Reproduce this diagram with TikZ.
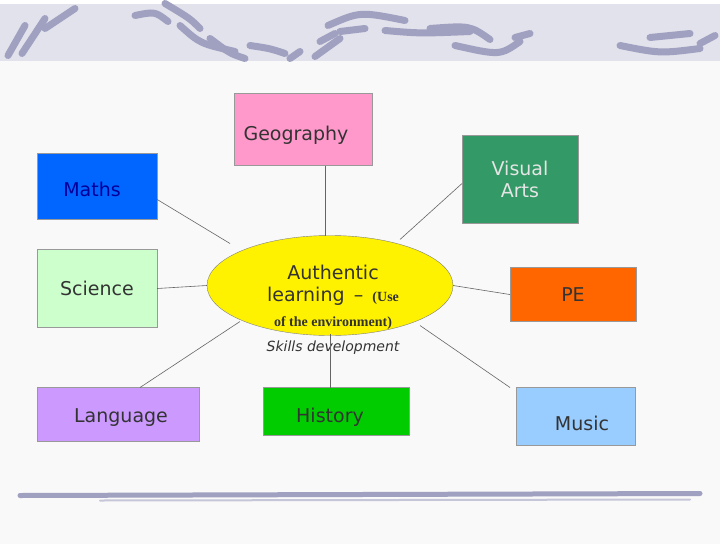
\documentclass[tikz,border=0pt]{standalone}
\usepackage{fontspec}
\usetikzlibrary{shapes.geometric}
\setmainfont{DejaVu Sans}
\newfontfamily\serifb{Liberation Serif}
\definecolor{cgeo}{HTML}{FF99CC}
\definecolor{cmath}{HTML}{0066FF}
\definecolor{cva}{HTML}{339966}
\definecolor{cpe}{HTML}{FF6600}
\definecolor{clang}{HTML}{CC99FF}
\definecolor{cmus}{HTML}{99CCFF}
\definecolor{chist}{HTML}{00CC00}
\definecolor{csci}{HTML}{CCFFCC}
\definecolor{cband}{HTML}{E2E2EC}
\definecolor{cstroke}{HTML}{A0A0C0}
\begin{document}
\begin{tikzpicture}[x=1pt,y=-1pt,
 box/.style={draw=gray!80,minimum width=#1,inner sep=0pt,font=\fontsize{19}{22}\selectfont,text=black!80},
 conn/.style={draw=gray!80!black,line width=0.6pt},
 stroke/.style={line width=7pt,line cap=round,color=cstroke}]
\fill[white!95!gray] (0,0) rectangle (720,540);
\fill[cband] (0,0) rectangle (720,57);
\draw[stroke] (8,52)--(25,22); \draw[stroke] (22,50)--(45,15); \draw[stroke] (45,25)--(75,5);
\draw[stroke] (135,12) .. controls (155,8) .. (168,18);
\draw[stroke] (165,0) .. controls (190,15) .. (200,25);
\draw[stroke] (180,22) .. controls (200,40) .. (235,48);
\draw[stroke] (210,35) .. controls (230,50) .. (245,55);
\draw[stroke] (250,42) .. controls (270,45) .. (285,50);
\draw[stroke] (290,55)--(300,48); \draw[stroke] (315,53)--(340,35); \draw[stroke] (320,38)--(335,30);
\draw[stroke] (328,22) .. controls (360,8) .. (405,17);
\draw[stroke] (340,28)--(365,25);
\draw[stroke] (385,27) .. controls (420,30) .. (470,28);
\draw[stroke] (430,25) .. controls (470,22) .. (490,36);
\draw[stroke] (455,42) .. controls (500,52) .. (520,38);
\draw[stroke] (515,34)--(530,30);
\draw[stroke] (620,42) .. controls (660,50) .. (700,45);
\draw[stroke] (650,34)--(690,30); \draw[stroke] (700,40)--(715,32);
\draw[line width=5pt,line cap=round,color=cstroke] (20,492) -- (700,490);
\draw[line width=2pt,line cap=round,color=cstroke!60] (100,497) -- (690,496);
\node[box=138pt,minimum height=72pt,fill=cgeo] (geo) at (303,126) {};
\node[font=\fontsize{19}{22}\selectfont,text=black!80] at (296,132) {Geography};
\node[box=120pt,minimum height=66pt,fill=cmath] (maths) at (97,183) {};
\node[font=\fontsize{19}{22}\selectfont,text=blue!60!black] at (92,186) {Maths};
\node[box=116pt,minimum height=88pt,fill=cva,text=white!80!gray,align=center] (va) at (520,176) {Visual\\Arts};
\node[box=120pt,minimum height=78pt,fill=csci] (sci) at (97,285) {Science};
\node[draw=gray,fill=yellow,ellipse,minimum width=246pt,minimum height=100pt,inner sep=0pt] (auth) at (330,282) {};
\node[font=\fontsize{19}{22}\selectfont,text=black!80,align=center] at (333,282) {Authentic\\learning {\,–\,} {\serifb\bfseries\fontsize{14}{15}\selectfont(Use}};
\node[font=\serifb\bfseries\fontsize{14}{15}\selectfont,text=black!80] at (333,320) {of the environment)};
\node[font=\itshape\fontsize{14}{16}\selectfont,text=black!80] (skills) at (333,344) {Skills development};
\node[box=126pt,minimum height=54pt,fill=cpe] (pe) at (573,291) {PE};
\node[box=162pt,minimum height=54pt,fill=clang] (lang) at (118,411) {};
\node[font=\fontsize{19}{22}\selectfont,text=black!80] at (121,414) {Language};
\node[box=146pt,minimum height=48pt,fill=chist] (hist) at (336,408) {};
\node[font=\fontsize{19}{22}\selectfont,text=black!80] at (330,414) {History};
\node[box=119pt,minimum height=58pt,fill=cmus] (mus) at (576,413) {};
\node[font=\fontsize{19}{22}\selectfont,text=black!80] at (582,420) {Music};
\draw[conn] (325,162) -- (325,232);
\draw[conn] (maths.east |- 0,196) -- (230,240);
\draw[conn] (462,180) -- (400,236);
\draw[conn] (sci.east) -- (auth.west);
\draw[conn] (pe.west) -- (auth.east);
\draw[conn] (140,384) -- (240,318);
\draw[conn] (330,384) -- (330,330);
\draw[conn] (510,384) -- (420,322);
\end{tikzpicture}
\end{document}
